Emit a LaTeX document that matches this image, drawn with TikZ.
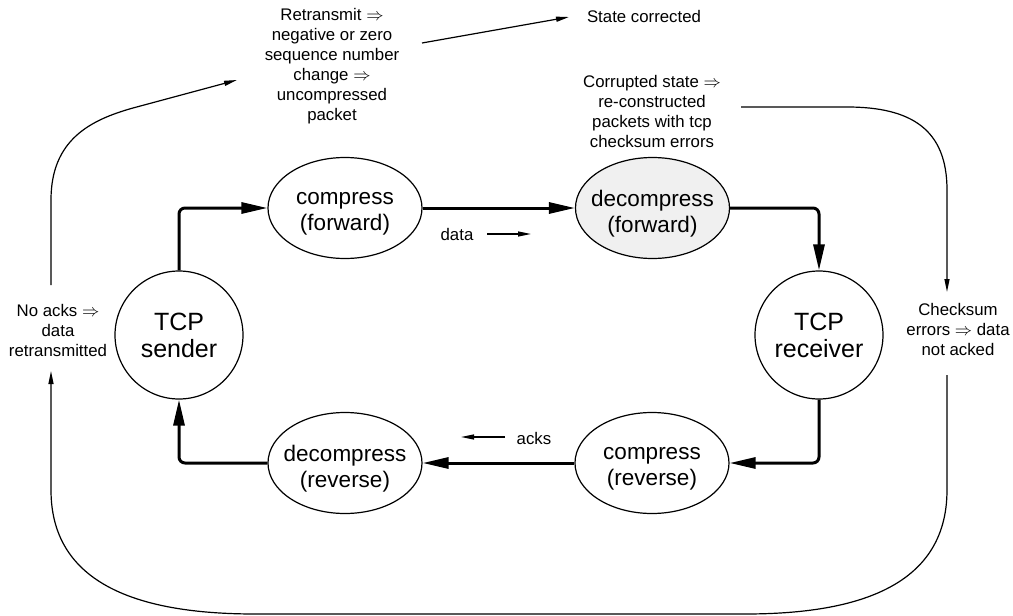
\documentclass[tikz,border=0pt]{standalone}
\usepackage{fontspec}
\setmainfont{Liberation Sans}
\usetikzlibrary{arrows.meta,shapes.geometric}
\definecolor{fillgray}{RGB}{240,240,240}
\begin{document}
\begin{tikzpicture}[x=1pt,y=-1pt,
  ell/.style={draw,ellipse,line width=1.2pt,minimum width=154pt,minimum height=101pt,inner sep=0pt},
  etext/.style={align=center,inner sep=0pt,font=\fontsize{22.5}{26}\selectfont},
  tcp/.style={draw,circle,line width=1.2pt,minimum size=128pt,inner sep=0pt,align=center,font=\fontsize{25}{27}\selectfont},
  lbl/.style={align=center,inner sep=0pt,font=\fontsize{16.8}{20}\selectfont},
  thickarr/.style={line width=3pt,rounded corners=6pt,-{Triangle[length=26pt,width=11pt]}},
  thinarr/.style={line width=1.2pt,-{Triangle[length=13pt,width=5pt]}}]
\useasboundingbox (0,0) rectangle (1013,616);
% main nodes
\node[tcp] (snd) at (179,335) {TCP\\sender};
\node[tcp] (rcv) at (819,335) {TCP\\receiver};
\node[ell] (cf) at (345,208) {};
\node[ell,fill=fillgray] (df) at (652.5,208) {};
\node[ell] (dr) at (345,463) {};
\node[ell] (cr) at (652,463) {};
\node[etext] (cft) at (345,214) {compress\\(forward)};
\node[etext] (dft) at (652.5,214) {decompress\\(forward)};
\node[etext] (drt) at (345,469) {decompress\\(reverse)};
\node[etext] (crt) at (652,469) {compress\\(reverse)};
% thick connectors
\draw[thickarr] (snd.north) |- (cf.west);
\draw[thickarr] (cf.east) -- (df.west);
\draw[thickarr] (df.east) -| (rcv.north);
\draw[thickarr] (rcv.south) |- (cr.east);
\draw[thickarr] (cr.west) -- (dr.east);
\draw[thickarr] (dr.west) -| (snd.south);
% labels
\node[lbl] (retx) at (332,66) {Retransmit $\Rightarrow$\\negative or zero\\sequence number\\change $\Rightarrow$\\uncompressed\\packet};
\node[lbl] (statec) at (644,16) {State corrected};
\node[lbl] (corr) at (652,111) {Corrupted state $\Rightarrow$\\re-constructed\\packets with tcp\\checksum errors};
\node[lbl] (noacks) at (58,330) {No acks $\Rightarrow$\\data\\retransmitted};
\node[lbl] (cks) at (958,329) {Checksum\\errors $\Rightarrow$ data\\not acked};
\node[lbl,anchor=base] (data) at (457,240) {data};
\node[lbl,anchor=base] (acks) at (534,444) {acks};
% coordinates for thin arrows
\coordinate (d1) at (487,234);
\coordinate (d2) at (531,234);
\coordinate (k1) at (505,437);
\coordinate (k2) at (461,437);
\coordinate (n1) at (51,285);
\coordinate (n2) at (237,80);
\coordinate (s1) at (422,43);
\coordinate (s2) at (569,17);
\coordinate (c1) at (741,107);
\coordinate (c2) at (947,292);
\coordinate (b1) at (947,375);
\coordinate (b2) at (51,371);
% thin arrows
\draw[thinarr] (d1) -- (d2);
\draw[thinarr] (k1) -- (k2);
\draw[thinarr] (n1) -- (51,200) .. controls (51,140) and (90,120) .. (133,108) -- (n2);
\draw[thinarr] (s1) -- (s2);
\draw[thinarr] (c1) -- (847,107) .. controls (912,107) and (947,130) .. (947,190) -- (c2);
\draw[thinarr] (b1) -- (947,490) .. controls (947,590) and (850,614) .. (745,614) -- (255,614) .. controls (150,614) and (51,590) .. (51,490) -- (b2);
\end{tikzpicture}
\end{document}
